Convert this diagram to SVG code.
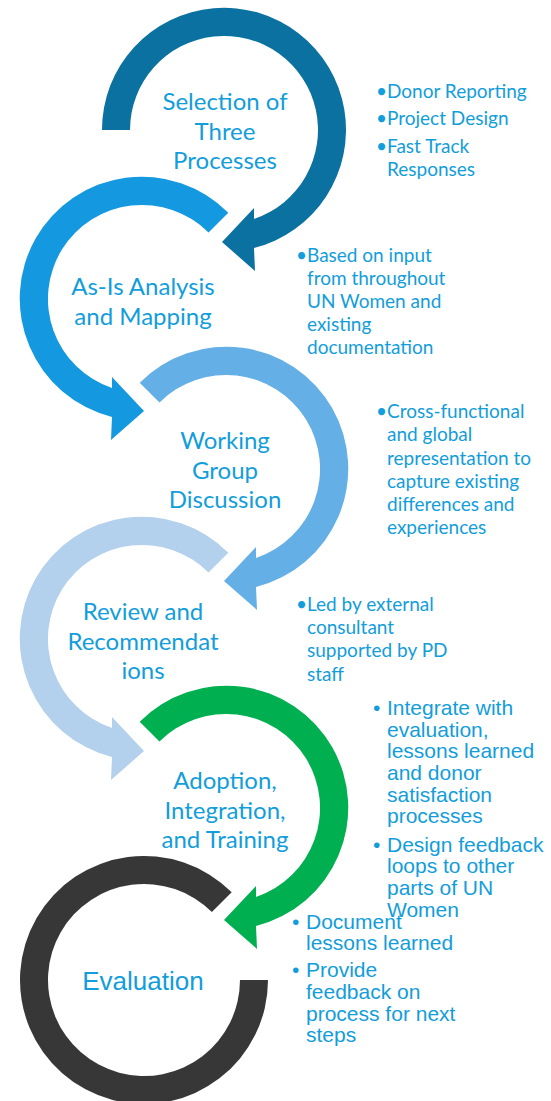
<svg xmlns="http://www.w3.org/2000/svg" width="551" height="1101" viewBox="0 0 551 1101">
<style>
.lbl{font-family:Lato,"Open Sans",sans-serif;font-size:24px;fill:#129DDB;text-anchor:middle}
.bul{font-family:Lato,"Open Sans",sans-serif;font-size:19px;fill:#129DDB}
.ar{font-family:"Liberation Sans",Arial,sans-serif;font-size:21px;fill:#129DDB}
.ev{font-family:"Liberation Sans",Arial,sans-serif;font-size:26px;fill:#129DDB;text-anchor:middle}
</style>
<rect width="551" height="1101" fill="#fff"/>
<g id="step1">
<path d="M102,130 A122,122 0 1 1 254,248 L255,271 L222,242 L254,208 L254,219 A94,94 0 1 0 130,130 Z" fill="#0A71A1"/>
<text class="lbl"><tspan x="225" y="110">Selection of</tspan><tspan x="225" y="140">Three</tspan><tspan x="225" y="169">Processes</tspan></text>
<text class="bul"><tspan x="376" y="98">•</tspan><tspan x="387" y="98">Donor Reporting</tspan><tspan x="376" y="125">•</tspan><tspan x="387" y="125">Project Design</tspan><tspan x="376" y="153">•</tspan><tspan x="387" y="153">Fast Track</tspan><tspan x="387" y="176">Responses</tspan></text>
</g>
<g id="step2">
<path d="M228.3,212.7 A122,122 0 1 0 112,417 L111,440 L144,411 L112,377 L112,388 A94,94 0 1 1 208.5,232.5 Z" fill="#1499E0"/>
<text class="lbl"><tspan x="143" y="295">As-Is Analysis</tspan><tspan x="143" y="325">and Mapping</tspan></text>
<text class="bul"><tspan x="296" y="262">•</tspan><tspan x="307" y="262">Based on input</tspan><tspan x="307" y="285">from throughout</tspan><tspan x="307" y="308">UN Women and</tspan><tspan x="307" y="331">existing</tspan><tspan x="307" y="354">documentation</tspan></text>
</g>
<g id="step3">
<path d="M139.7,382.7 A122,122 0 1 1 256,587 L257,610 L224,581 L256,547 L256,558 A94,94 0 1 0 159.5,402.5 Z" fill="#64AFE6"/>
<text class="lbl"><tspan x="225" y="449">Working</tspan><tspan x="225" y="479">Group</tspan><tspan x="225" y="508">Discussion</tspan></text>
<text class="bul"><tspan x="376" y="418">•</tspan><tspan x="387" y="418">Cross-functional</tspan><tspan x="387" y="441">and global</tspan><tspan x="387" y="465">representation to</tspan><tspan x="387" y="488">capture existing</tspan><tspan x="387" y="511">differences and</tspan><tspan x="387" y="534">experiences</tspan></text>
</g>
<g id="step4">
<path d="M228.3,552.7 A122,122 0 1 0 112,757 L111,780 L144,751 L112,717 L112,728 A94,94 0 1 1 208.5,572.5 Z" fill="#B3D0EC"/>
<text class="lbl"><tspan x="143" y="620">Review and</tspan><tspan x="143" y="650">Recommendat</tspan><tspan x="143" y="679">ions</tspan></text>
<text class="bul"><tspan x="296" y="611">•</tspan><tspan x="307" y="611">Led by external</tspan><tspan x="307" y="634">consultant</tspan><tspan x="307" y="657">supported by PD</tspan><tspan x="307" y="681">staff</tspan></text>
</g>
<g id="step5">
<path d="M139.7,721.7 A122,122 0 1 1 256,926 L257,949 L224,920 L256,886 L256,897 A94,94 0 1 0 159.5,741.5 Z" fill="#00AF50"/>
<text class="lbl"><tspan x="225" y="789">Adoption,</tspan><tspan x="225" y="819">Integration,</tspan><tspan x="225" y="848">and Training</tspan></text>
<text class="ar"><tspan x="373" y="715">•</tspan><tspan x="387" y="715">Integrate with</tspan><tspan x="387" y="737">evaluation,</tspan><tspan x="387" y="758">lessons learned</tspan><tspan x="387" y="780">and donor</tspan><tspan x="387" y="802">satisfaction</tspan><tspan x="387" y="823">processes</tspan><tspan x="373" y="852">•</tspan><tspan x="387" y="852">Design feedback</tspan><tspan x="387" y="873">loops to other</tspan><tspan x="387" y="895">parts of UN</tspan><tspan x="387" y="917">Women</tspan></text>
</g>
<g id="step6">
<path d="M231.7,892.3 A124,124 0 1 0 268,980 L240,980 A96,96 0 1 1 211.9,912.1 Z" fill="#373737"/>
<text class="ev" x="143" y="990">Evaluation</text>
<text class="ar"><tspan x="292" y="929">•</tspan><tspan x="306" y="929">Document</tspan><tspan x="306" y="950">lessons learned</tspan><tspan x="292" y="977">•</tspan><tspan x="306" y="977">Provide</tspan><tspan x="306" y="999">feedback on</tspan><tspan x="306" y="1021">process for next</tspan><tspan x="306" y="1042">steps</tspan></text>
</g>
</svg>
